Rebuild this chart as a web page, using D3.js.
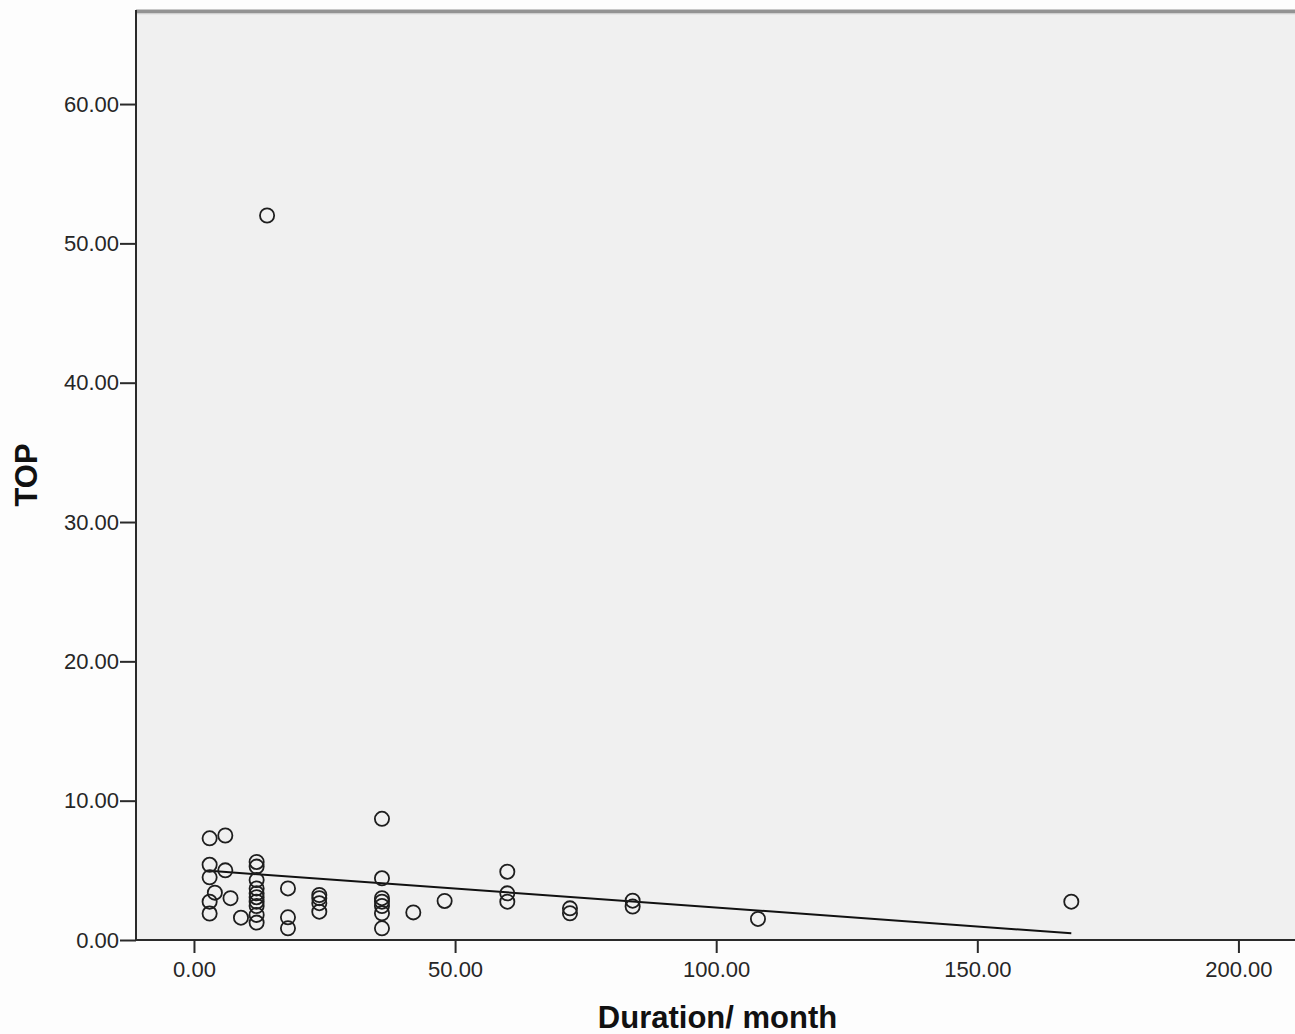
<!DOCTYPE html>
<html>
<head>
<meta charset="utf-8">
<script src="https://cdn.jsdelivr.net/npm/d3@7"></script>
<style>
  html, body { margin: 0; padding: 0; background: #fdfdfd; overflow: hidden; }
  svg { display: block; }
</style>
</head>
<body>
<script>
// ---- data ----
const durationMonths = [3, 6, 36, 14, 3, 3, 6, 4, 7, 3, 3, 9,
  12, 12, 12, 12, 12, 12, 12, 12, 12, 12,
  18, 18, 18,
  24, 24, 24, 24,
  36, 36, 36, 36, 36, 36,
  42, 48, 60, 60, 60, 72, 72, 84, 84, 108, 168];
const topValues = [7.3, 7.5, 8.7, 52.0, 5.4, 4.5, 5.0, 3.4, 3.0, 2.75, 1.9, 1.6,
  5.6, 5.27, 4.3, 3.7, 3.35, 3.07, 2.75, 2.44, 1.8, 1.25,
  3.7, 1.63, 0.84,
  3.23, 3.0, 2.64, 2.03,
  4.43, 3.0, 2.75, 2.44, 1.92, 0.84,
  1.98, 2.8, 4.9, 3.35, 2.75, 2.27, 1.92, 2.82, 2.4, 1.51, 2.75];
const xTicks = [0, 50, 100, 150, 200];
const yTicks = [0, 10, 20, 30, 40, 50, 60];
const fitIntercept = 5.05;
const fitSlope = -0.0272;
const xTitle = "Duration/ month";
const yTitle = "TOP";

// ---- layout ----
const W = 1295, H = 1034;
const plot = { left: 136, right: 1299, top: 10, bottom: 940 };

const svg = d3.select("body").append("svg").attr("width", W).attr("height", H);

const x = d3.scaleLinear().domain([-11.1, 211.6]).range([plot.left, plot.right]);
const y = d3.scaleLinear().domain([0, 66.75]).range([plot.bottom, plot.top]);

// plot background
svg.append("rect")
  .attr("x", plot.left).attr("y", plot.top)
  .attr("width", plot.right - plot.left).attr("height", plot.bottom - plot.top)
  .attr("fill", "#f0f0f0");

// top border
svg.append("line")
  .attr("x1", plot.left).attr("x2", plot.right)
  .attr("y1", plot.top + 1.5).attr("y2", plot.top + 1.5)
  .attr("stroke", "#939393").attr("stroke-width", 4);
svg.append("line")
  .attr("x1", plot.left).attr("x2", plot.right)
  .attr("y1", plot.top + 4).attr("y2", plot.top + 4)
  .attr("stroke", "#dcdcdc").attr("stroke-width", 1);

// axes
const fmt = d3.format(".2f");
const xAxis = d3.axisBottom(x).tickValues(xTicks).tickFormat(fmt).tickSize(13).tickPadding(8);
const yAxis = d3.axisLeft(y).tickValues(yTicks).tickFormat(fmt).tickSize(16).tickPadding(1);

const gx = svg.append("g").attr("transform", `translate(0,${plot.bottom})`).call(xAxis);
const gy = svg.append("g").attr("transform", `translate(${plot.left},0)`).call(yAxis);

[gx, gy].forEach(g => {
  g.select(".domain").attr("stroke", "#2a2a2a").attr("stroke-width", 2);
  g.selectAll(".tick line").attr("stroke", "#2a2a2a").attr("stroke-width", 2);
  g.selectAll(".tick text")
    .attr("fill", "#262626")
    .style("font-family", "'Liberation Sans', Arial, sans-serif")
    .style("font-size", "22px");
});
gx.select(".domain").attr("d", `M${plot.left},0H${plot.right}`);
gy.select(".domain").attr("d", `M0,${plot.top}V${plot.bottom}`);

// fit line
const xMin = d3.min(durationMonths), xMax = d3.max(durationMonths);
svg.append("line")
  .attr("x1", x(xMin)).attr("y1", y(fitIntercept + fitSlope * xMin))
  .attr("x2", x(xMax)).attr("y2", y(fitIntercept + fitSlope * xMax))
  .attr("stroke", "#111").attr("stroke-width", 2);

// points
svg.append("g").selectAll("circle")
  .data(durationMonths.map((d, i) => [d, topValues[i]]))
  .join("circle")
  .attr("cx", d => x(d[0])).attr("cy", d => y(d[1]))
  .attr("r", 7.1)
  .attr("fill", "none")
  .attr("stroke", "#1e1e1e")
  .attr("stroke-width", 1.8);

// titles
svg.append("text")
  .attr("x", (plot.left + 1299) / 2).attr("y", 1028)
  .attr("text-anchor", "middle")
  .style("font-family", "'Liberation Sans', Arial, sans-serif")
  .style("font-size", "31px").style("font-weight", "bold")
  .attr("fill", "#111")
  .text(xTitle);

svg.append("text")
  .attr("transform", `translate(37,${(plot.top + plot.bottom) / 2}) rotate(-90)`)
  .attr("text-anchor", "middle")
  .style("font-family", "'Liberation Sans', Arial, sans-serif")
  .style("font-size", "31px").style("font-weight", "bold")
  .attr("fill", "#111")
  .text(yTitle);
</script>
</body>
</html>
